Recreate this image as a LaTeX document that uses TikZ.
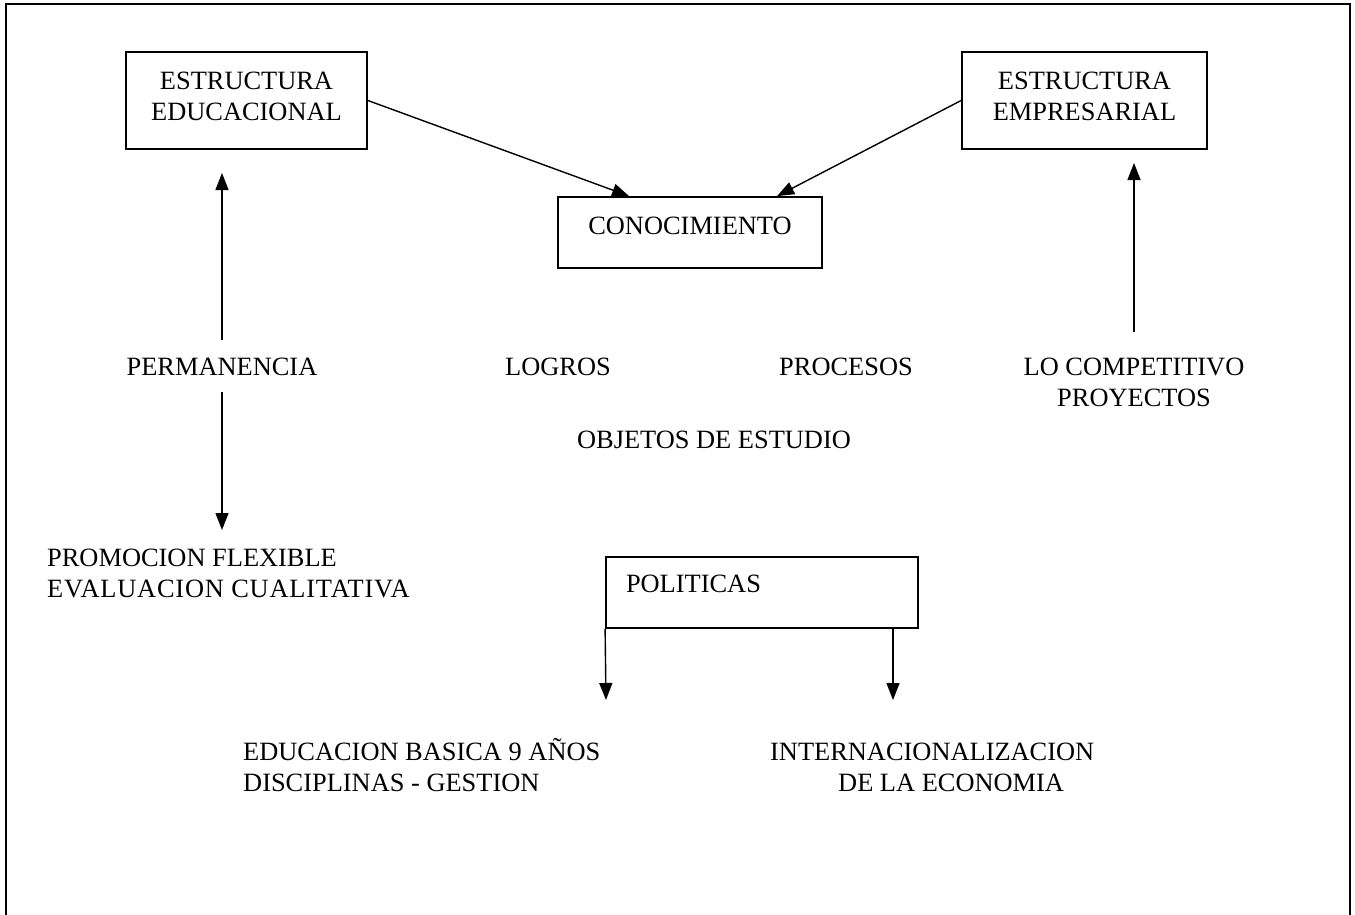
\documentclass[tikz,border=0pt]{standalone}
\usepackage{fontspec}
\setmainfont{Liberation Serif}
\usetikzlibrary{arrows.meta,calc}
\tikzset{
    box/.style={rectangle,draw,line width=1.8pt,align=center,inner sep=0pt},
    txt/.style={align=center,inner sep=0pt},
    arr/.style={-{Triangle[width=13pt,length=17pt]},line width=1.4pt},
    frame/.style={line width=2.4pt},
}

\begin{document}
\begin{tikzpicture}[x=1pt,y=-1pt,font=\fontsize{26.4}{31}\selectfont]
    \useasboundingbox (0,0) rectangle (1355,915);
    \draw[frame] (6,915) -- (6,4) -- (1350,4) -- (1350,915);
    % boxes
    \node[box,minimum width=241pt,minimum height=97pt,text depth=9pt] (edu) at (246.5,100.5) {ESTRUCTURA\\EDUCACIONAL};
    \node[box,minimum width=245pt,minimum height=97pt,text depth=9pt] (emp) at (1084.5,100.5) {ESTRUCTURA\\EMPRESARIAL};
    \node[box,minimum width=264pt,minimum height=71pt,text depth=14pt] (con) at (690,232.5) {CONOCIMIENTO};
    \node[box,minimum width=312pt,minimum height=71pt,text depth=17pt,inner xsep=20pt,text width=272pt,align=left] (pol) at (762,592.5) {POLITICAS};
    % labels
    \node[txt,anchor=base] (perm) at (222,375) {PERMANENCIA};
    \node[txt,anchor=base] (logros) at (558,375) {LOGROS};
    \node[txt,anchor=base] (procesos) at (846,375) {PROCESOS};
    \node[txt,anchor=base] (comp) at (1134,406) {LO COMPETITIVO\\PROYECTOS};
    \node[txt,anchor=base] (objetos) at (714,448) {OBJETOS DE ESTUDIO};
    \node[txt,anchor=base west,align=left] (promo) at (47,597) {PROMOCION FLEXIBLE\\{\addfontfeature{LetterSpace=3.0}EVALUACION CUALITATIVA}};
    \node[txt,anchor=base west,align=left] (basica) at (243,791) {EDUCACION BASICA 9 AÑOS\\DISCIPLINAS - GESTION};
    \node[txt,anchor=base west,align=left] (inter) at (770,791) {INTERNACIONALIZACION\\\hspace*{68pt}DE LA ECONOMIA};
    % connectors
    \coordinate (eduup) at (222,173);
    \coordinate (edudown) at (222,530);
    \coordinate (empup) at (1134,163);
    \coordinate (polA) at (606,700);
    \coordinate (polB) at (893,700);
    \draw[arr] (edu.east) -- ($(con.north west)+(72,0)$);
    \draw[arr] (emp.west) -- ($(con.north west)+(220,0)$);
    \draw[arr,shorten <=17pt] (perm) -- (eduup);
    \draw[arr,shorten <=17pt] (perm) -- (edudown);
    \draw[arr,shorten <=25pt] (comp.north) -- (empup);
    \draw[arr] (pol.south west) -- (polA);
    \draw[arr] (polB |- pol.south) -- (polB);
\end{tikzpicture}
\end{document}
